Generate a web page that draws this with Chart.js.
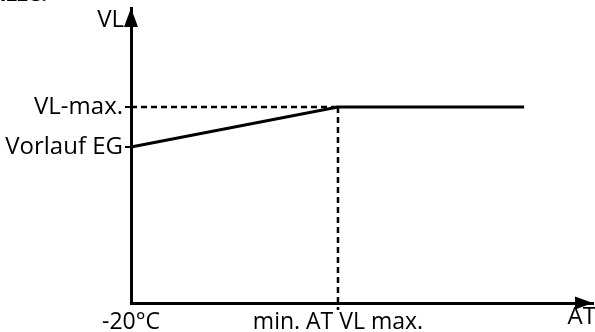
<!DOCTYPE html>
<html>
<head>
<meta charset="utf-8">
<script src="https://cdn.jsdelivr.net/npm/chart.js@4"></script>
<style>
    body { margin: 0; background: #fff; overflow: hidden; }
    #wrap { position: relative; width: 595px; height: 332px; }
    #cutTitle { position: absolute; left: -26px; top: -23px; font: bold 22px "Open Sans"; color: #000; }
</style>
</head>
<body>
<div id="wrap">
    <canvas id="myChart" width="595" height="332"></canvas>
    <div id="cutTitle">Skizze:</div>
</div>
<script>
// x: outside temperature (AT), y: flow temperature (VL), in sketch units
const xTickValues = [0, 44.8];
const xTickLabels = ['-20°C', 'min. AT VL max.'];
const yTickValues = [52.9, 66.4];
const yTickLabels = ['Vorlauf EG', 'VL-max.'];

const curveX = [0, 44.8, 85.1];
const curveY = [52.9, 66.4, 66.4];

const guideHX = [0, 44.8];
const guideHY = [66.4, 66.4];
const guideVX = [44.8, 44.8];
const guideVY = [66.4, -2.4];

const xTitle = 'AT';
const yTitle = 'VL';

function toPoints(xs, ys) {
    return xs.map((x, i) => ({ x: x, y: ys[i] }));
}

function noPadding(scale) {
    scale.paddingTop = 0;
    scale.paddingBottom = 0;
    scale.paddingLeft = 0;
    scale.paddingRight = 0;
}

const axisArrows = {
    id: 'axisArrows',
    afterDraw(chart) {
        const ctx = chart.ctx;
        const xs = chart.scales.x;
        const ys = chart.scales.y;
        const x0 = xs.getPixelForValue(0);
        const y0 = ys.getPixelForValue(0);
        const top = chart.chartArea.top;
        const right = chart.chartArea.right;

        ctx.save();
        ctx.fillStyle = '#000';
        ctx.beginPath();
        ctx.moveTo(x0, top);
        ctx.lineTo(x0 - 7, top + 19);
        ctx.lineTo(x0 + 7, top + 19);
        ctx.closePath();
        ctx.fill();

        ctx.beginPath();
        ctx.moveTo(right, y0);
        ctx.lineTo(right - 18, y0 - 6.5);
        ctx.lineTo(right - 18, y0 + 6.5);
        ctx.closePath();
        ctx.fill();

        ctx.font = '24px "Open Sans"';
        ctx.textBaseline = 'middle';
        ctx.textAlign = 'right';
        ctx.fillText(yTitle, x0 - 7, top + 12);
        ctx.fillText(xTitle, right + 3, y0 + 14);
        ctx.restore();
    }
};

new Chart(document.getElementById('myChart'), {
    type: 'line',
    data: {
        datasets: [
            {
                data: toPoints(curveX, curveY),
                borderColor: '#000', borderWidth: 3,
                pointRadius: 0, tension: 0, clip: false
            },
            {
                data: toPoints(guideHX, guideHY),
                borderColor: '#000', borderWidth: 2.5, borderDash: [6, 4],
                pointRadius: 0, clip: false
            },
            {
                data: toPoints(guideVX, guideVY),
                borderColor: '#000', borderWidth: 2.5, borderDash: [6, 4],
                pointRadius: 0, clip: false
            }
        ]
    },
    options: {
        responsive: false,
        animation: false,
        events: [],
        layout: { padding: { top: 8, right: 2, left: 0, bottom: 0 } },
        plugins: { legend: { display: false }, tooltip: { enabled: false } },
        scales: {
            x: {
                type: 'linear', min: 0, max: 100,
                afterFit: scale => { scale.height = 29; noPadding(scale); },
                afterBuildTicks: scale => { scale.ticks = xTickValues.map(v => ({ value: v })); },
                grid: { display: false },
                border: { display: true, color: '#000', width: 3 },
                ticks: {
                    color: '#000', font: { family: '"Open Sans"', size: 23 }, padding: -2,
                    maxRotation: 0, autoSkip: false,
                    callback: (value, index) => xTickLabels[index]
                }
            },
            y: {
                type: 'linear', min: 0, max: 100,
                afterFit: scale => { scale.width = 131; noPadding(scale); },
                afterBuildTicks: scale => { scale.ticks = yTickValues.map(v => ({ value: v })); },
                grid: { display: true, drawOnChartArea: false, drawTicks: true, tickLength: 6, color: '#000', lineWidth: 2 },
                border: { display: true, color: '#000', width: 3 },
                ticks: {
                    color: '#000', font: { family: '"Open Sans"', size: 24 }, padding: 2, autoSkip: false,
                    callback: (value, index) => yTickLabels[index]
                }
            }
        }
    },
    plugins: [axisArrows]
});
</script>
</body>
</html>
